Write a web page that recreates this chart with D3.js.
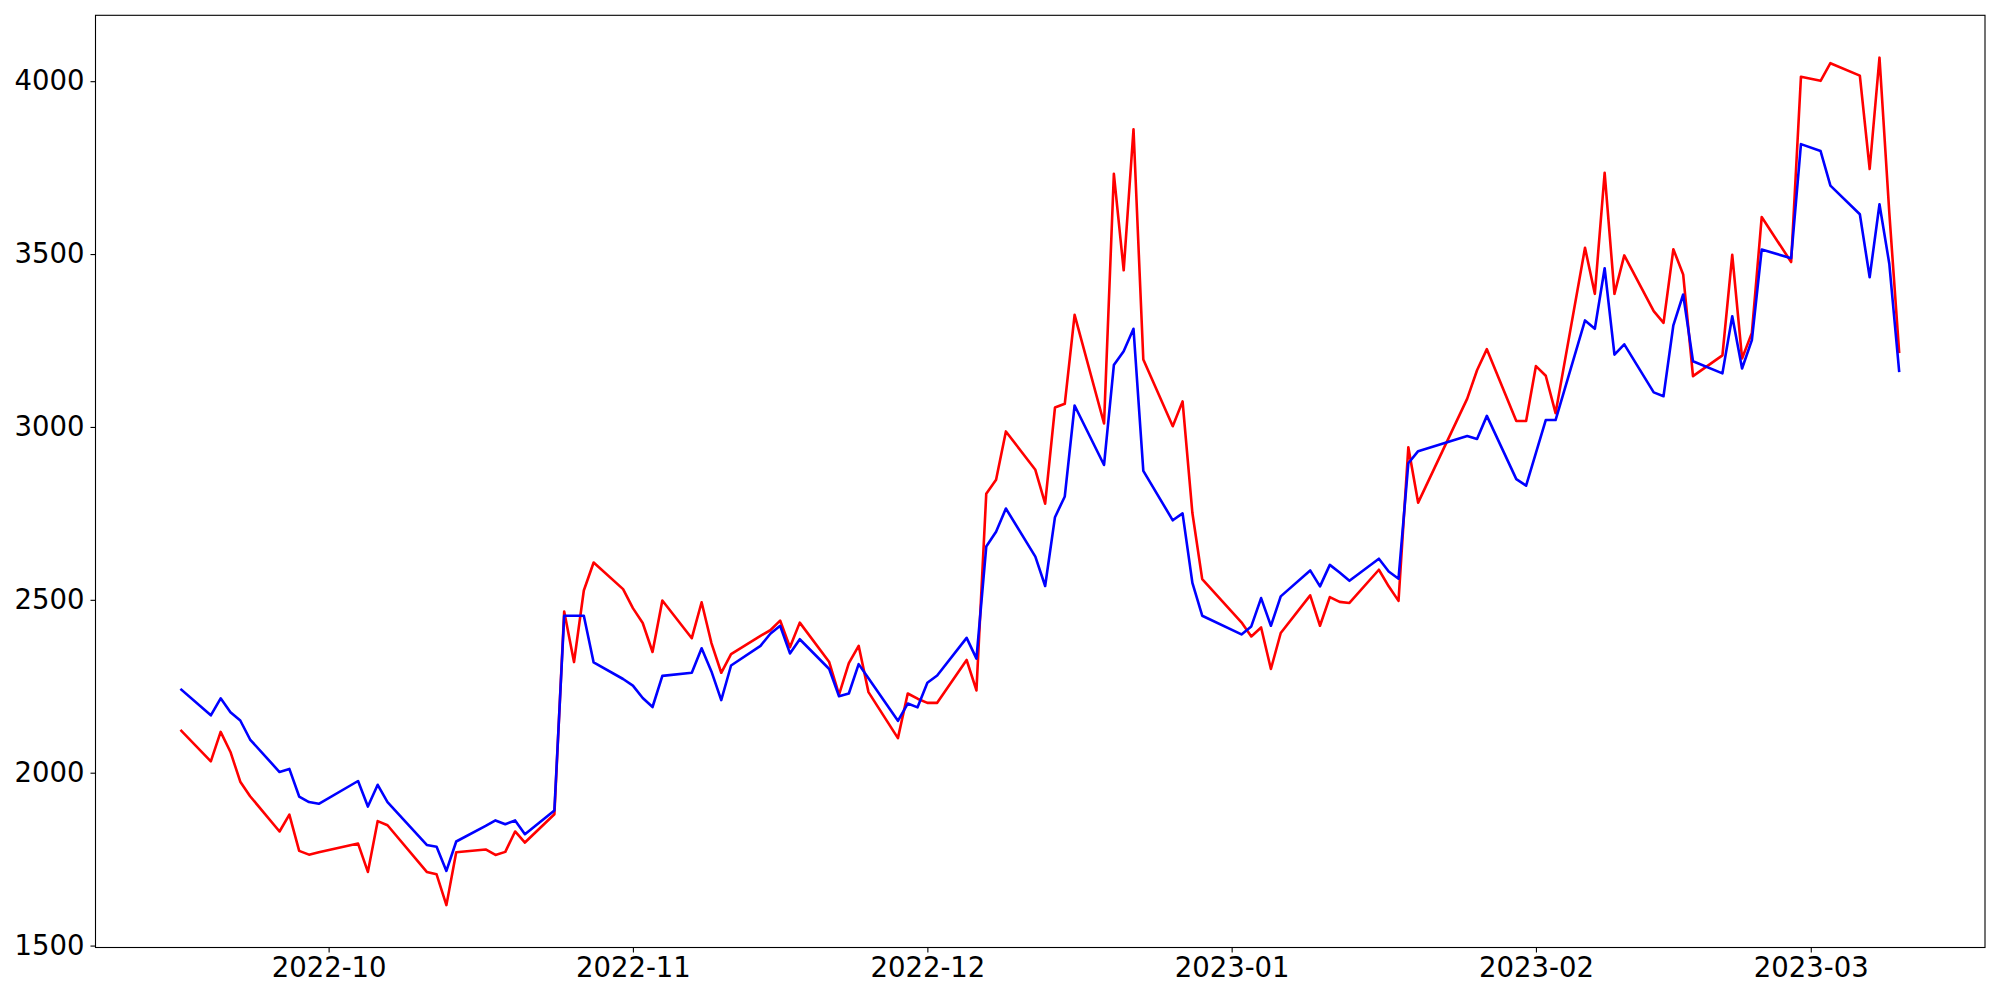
<!DOCTYPE html>
<html>
<head>
<meta charset="utf-8">
<script src="https://cdn.jsdelivr.net/npm/d3@7"></script>
<style>
  html, body { margin: 0; padding: 0; background: #ffffff; }
  svg { display: block; }
  text { font-family: "DejaVu Sans", sans-serif; }
</style>
</head>
<body>
<svg id="chart" width="2000" height="1000"></svg>
<script>
// ---- data ----
const dates = [
  "2022-09-16","2022-09-19","2022-09-20","2022-09-21","2022-09-22","2022-09-23",
  "2022-09-26","2022-09-27","2022-09-28","2022-09-29","2022-09-30",
  "2022-10-04","2022-10-05","2022-10-06","2022-10-07",
  "2022-10-11","2022-10-12","2022-10-13","2022-10-14",
  "2022-10-17","2022-10-18","2022-10-19","2022-10-20","2022-10-21",
  "2022-10-24","2022-10-25","2022-10-26","2022-10-27","2022-10-28",
  "2022-10-31","2022-11-01","2022-11-02","2022-11-03","2022-11-04",
  "2022-11-07","2022-11-08","2022-11-09","2022-11-10","2022-11-11",
  "2022-11-14","2022-11-15","2022-11-16","2022-11-17","2022-11-18",
  "2022-11-21","2022-11-22","2022-11-23","2022-11-24","2022-11-25",
  "2022-11-28","2022-11-29","2022-11-30","2022-12-01","2022-12-02",
  "2022-12-05","2022-12-06","2022-12-07","2022-12-08","2022-12-09",
  "2022-12-12","2022-12-13","2022-12-14","2022-12-15","2022-12-16",
  "2022-12-19","2022-12-20","2022-12-21","2022-12-22","2022-12-23",
  "2022-12-26","2022-12-27","2022-12-28","2022-12-29",
  "2023-01-02","2023-01-03","2023-01-04","2023-01-05","2023-01-06",
  "2023-01-09","2023-01-10","2023-01-11","2023-01-12","2023-01-13",
  "2023-01-16","2023-01-17","2023-01-18","2023-01-19","2023-01-20",
  "2023-01-25","2023-01-26","2023-01-27",
  "2023-01-30","2023-01-31","2023-02-01","2023-02-02","2023-02-03",
  "2023-02-06","2023-02-07","2023-02-08","2023-02-09","2023-02-10",
  "2023-02-13","2023-02-14","2023-02-15","2023-02-16","2023-02-17",
  "2023-02-20","2023-02-21","2023-02-22","2023-02-23","2023-02-24",
  "2023-02-27","2023-02-28","2023-03-02","2023-03-03",
  "2023-03-06","2023-03-07","2023-03-08","2023-03-09","2023-03-10"
];

const redValues = [
  2121,2033,2118,2060,1974,1932,
  1830,1879,1774,1763,1770,
  1795,1713,1860,1848,
  1713,1706,1617,1770,
  1778,1762,1771,1830,1798,
  1880,2466,2320,2527,2608,
  2531,2476,2433,2349,2498,
  2389,2493,2375,2289,2343,
  2396,2412,2440,2363,2434,
  2320,2226,2317,2367,2233,
  2100,2229,2214,2202,2202,
  2326,2238,2807,2847,2987,
  2876,2778,3056,3067,3324,
  3010,3732,3453,3861,3195,
  3002,3074,2751,2560,
  2435,2394,2420,2300,2404,
  2513,2425,2508,2494,2491,
  2587,2539,2497,2941,2781,
  3082,3164,3225,
  3017,3017,3176,3148,3040,
  3518,3385,3735,3385,3496,
  3335,3301,3514,3441,3147,
  3207,3498,3198,3272,3607,
  3477,4013,4001,4052,
  4016,3746,4068,3620,3217
];

const blueValues = [
  2240,2166,2215,2175,2151,2096,
  2002,2011,1931,1915,1910,
  1976,1902,1965,1915,
  1791,1786,1716,1801,
  1846,1862,1851,1862,1822,
  1891,2454,2454,2454,2319,
  2271,2252,2216,2190,2280,
  2289,2360,2293,2210,2310,
  2367,2402,2425,2345,2386,
  2300,2221,2229,2314,2273,
  2150,2200,2189,2260,2281,
  2390,2330,2654,2697,2764,
  2625,2540,2739,2799,3062,
  2890,3179,3219,3284,2873,
  2730,2750,2549,2454,
  2400,2423,2505,2425,2510,
  2585,2539,2601,2579,2555,
  2619,2582,2561,2895,2930,
  2974,2965,3032,
  2849,2830,2925,3020,3020,
  3308,3284,3459,3209,3239,
  3100,3089,3294,3383,3190,
  3155,3320,3169,3251,3513,
  3488,3818,3798,3698,
  3615,3433,3644,3472,3162
];

const yTickValues = [1500, 2000, 2500, 3000, 3500, 4000];
const xTickDates = ["2022-10-01","2022-11-01","2022-12-01","2023-01-01","2023-02-01","2023-03-01"];

(function draw() {
  // ---- layout ----
  const W = 2000, H = 1000;
  const pLeft = 95.5, pRight = 1985, pTop = 15.3, pBottom = 947.5;

  const parse = d3.utcParse("%Y-%m-%d");
  const dt = dates.map(parse);
  const seriesRed = dt.map((d, i) => ({date: d, value: redValues[i]}));
  const seriesBlue = dt.map((d, i) => ({date: d, value: blueValues[i]}));

  // matplotlib-like 5% margins
  const [t0, t1] = d3.extent(dt);
  const span = t1 - t0;
  const xDomain = [new Date(+t0 - 0.05 * span), new Date(+t1 + 0.05 * span)];
  const allVals = redValues.concat(blueValues);
  const [vMin, vMax] = d3.extent(allVals);
  const vSpan = vMax - vMin;
  const yDomain = [vMin - 0.05 * vSpan, vMax + 0.05 * vSpan];

  const x = d3.scaleUtc().domain(xDomain).range([pLeft, pRight]);
  const y = d3.scaleLinear().domain(yDomain).range([pBottom, pTop]);

  const svg = d3.select("#chart");
  svg.append("rect").attr("x", 0).attr("y", 0).attr("width", W).attr("height", H).attr("fill", "#fff");

  const clip = svg.append("clipPath").attr("id", "plotclip");
  clip.append("rect").attr("x", pLeft).attr("y", pTop).attr("width", pRight - pLeft).attr("height", pBottom - pTop);

  const line = d3.line().x(d => x(d.date)).y(d => y(d.value));

  const g = svg.append("g").attr("clip-path", "url(#plotclip)");
  g.append("path").datum(seriesRed)
    .attr("fill", "none").attr("stroke", "#ff0000").attr("stroke-width", 2.6)
    .attr("stroke-linejoin", "round").attr("stroke-linecap", "square")
    .attr("d", line);
  g.append("path").datum(seriesBlue)
    .attr("fill", "none").attr("stroke", "#0000ff").attr("stroke-width", 2.6)
    .attr("stroke-linejoin", "round").attr("stroke-linecap", "square")
    .attr("d", line);

  // axes
  const fmt = d3.utcFormat("%Y-%m");
  const xAxis = d3.axisBottom(x)
    .tickValues(xTickDates.map(parse))
    .tickFormat(fmt)
    .tickSize(5).tickPadding(5);
  const yAxis = d3.axisLeft(y)
    .tickValues(yTickValues)
    .tickFormat(d3.format("d"))
    .tickSize(5).tickPadding(6);

  const gx = svg.append("g").attr("transform", `translate(0,${pBottom})`).call(xAxis);
  const gy = svg.append("g").attr("transform", `translate(${pLeft},0)`).call(yAxis);
  [gx, gy].forEach(a => {
    a.select(".domain").remove();
    a.selectAll(".tick line").attr("stroke", "#000").attr("stroke-width", 1.1);
    a.selectAll(".tick text").attr("fill", "#000")
      .style("font-family", "'DejaVu Sans', sans-serif")
      .style("font-size", "27.5px");
  });

  // frame (all four spines)
  svg.append("rect")
    .attr("x", pLeft).attr("y", pTop)
    .attr("width", pRight - pLeft).attr("height", pBottom - pTop)
    .attr("fill", "none").attr("stroke", "#000").attr("stroke-width", 1.1);
})();
</script>
</body>
</html>
